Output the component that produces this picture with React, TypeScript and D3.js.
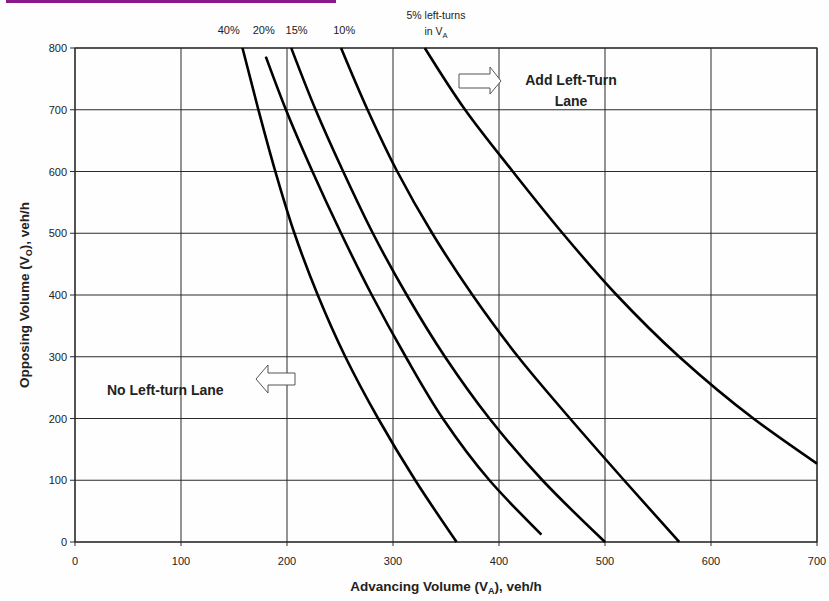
import React from "react";
import * as d3 from "d3";

// advancing volume (x) at each opposing volume (y)
const opposingLevels = [800, 700, 600, 500, 400, 300, 200, 100, 0];

const va40 = [158, 173, 189, 207, 229, 255, 286, 321, 360];
const va15 = [204, 227, 253, 281, 313, 349, 391, 441, 500];
const va10 = [251, 276, 304, 337, 375, 418, 467, 518, 570];

// 20% curve starts and stops short of the axis frame
const vo20 = [786, 700, 600, 500, 400, 300, 200, 100, 12];
const va20 = [180, 199, 224, 251, 280, 312, 347, 391, 440];

// 5% curve leaves the plot at the right edge
const vo5 = [800, 700, 600, 500, 400, 300, 200, 127];
const va5 = [330, 368, 413, 460, 511, 570, 640, 700];

const xTicks = [0, 100, 200, 300, 400, 500, 600, 700];
const yTicks = [0, 100, 200, 300, 400, 500, 600, 700, 800];

const topLabels = [
  { text: "40%", va: 145 },
  { text: "20%", va: 178 },
  { text: "15%", va: 209 },
  { text: "10%", va: 254 },
];

const WIDTH = 829;
const HEIGHT = 601;
const margin = { top: 48, right: 12, bottom: 59, left: 75 };

const App: React.FC = () => {
  const x = d3
    .scaleLinear()
    .domain([0, 700])
    .range([margin.left, WIDTH - margin.right]);
  const y = d3
    .scaleLinear()
    .domain([0, 800])
    .range([HEIGHT - margin.bottom, margin.top]);

  const line = d3
    .line<[number, number]>()
    .x((d) => x(d[0]))
    .y((d) => y(d[1]))
    .curve(d3.curveMonotoneY);

  const series: [number, number][][] = [
    va40.map((v, i) => [v, opposingLevels[i]]),
    va20.map((v, i) => [v, vo20[i]]),
    va15.map((v, i) => [v, opposingLevels[i]]),
    va10.map((v, i) => [v, opposingLevels[i]]),
    va5.map((v, i) => [v, vo5[i]]),
  ];

  const font = "'Liberation Sans', Arial, sans-serif";
  const gridColor = "#2a2a2a";

  return (
    <svg
      width={WIDTH}
      height={HEIGHT}
      style={{ position: "absolute", left: 0, top: 0, background: "#fdfefd" }}
      fontFamily={font}
    >
      {/* purple rule at the very top */}
      <rect x={6} y={0} width={330} height={3} fill="#8a1a8a" />

      {/* grid */}
      {xTicks.map((t) => (
        <line
          key={"gx" + t}
          x1={x(t)}
          x2={x(t)}
          y1={y(800)}
          y2={y(0) + 4}
          stroke={gridColor}
          strokeWidth={1}
        />
      ))}
      {yTicks.map((t) => (
        <line
          key={"gy" + t}
          x1={x(0) - 5}
          x2={x(700)}
          y1={y(t)}
          y2={y(t)}
          stroke={gridColor}
          strokeWidth={1}
        />
      ))}
      <rect
        x={x(0)}
        y={y(800)}
        width={x(700) - x(0)}
        height={y(0) - y(800)}
        fill="none"
        stroke={gridColor}
        strokeWidth={1.2}
      />

      {/* tick labels */}
      {xTicks.map((t) => (
        <text
          key={"tx" + t}
          x={x(t)}
          y={y(0) + 23}
          textAnchor="middle"
          fontSize={11}
          fill="#222"
        >
          {t}
        </text>
      ))}
      {yTicks.map((t) => (
        <text
          key={"ty" + t}
          x={x(0) - 8}
          y={y(t) + 4}
          textAnchor="end"
          fontSize={11}
          fill="#222"
        >
          {t}
        </text>
      ))}

      {/* curves */}
      {series.map((pts, i) => (
        <path
          key={"s" + i}
          d={line(pts) || ""}
          fill="none"
          stroke="#000"
          strokeWidth={2.6}
          strokeLinecap="butt"
        />
      ))}

      {/* curve labels */}
      {topLabels.map((l) => (
        <text
          key={l.text}
          x={x(l.va)}
          y={34}
          textAnchor="middle"
          fontSize={11}
          fill="#222"
        >
          {l.text}
        </text>
      ))}
      <text x={436} y={19} textAnchor="middle" fontSize={10.5} fill="#222">
        5% left-turns
      </text>
      <text x={436} y={35} textAnchor="middle" fontSize={10.5} fill="#222">
        in V<tspan fontSize={7.5} dy={3}>A</tspan>
      </text>

      {/* region notes */}
      <text x={571} y={85} textAnchor="middle" fontSize={14} fontWeight="bold" fill="#222">
        Add Left-Turn
      </text>
      <text x={571} y={106} textAnchor="middle" fontSize={14} fontWeight="bold" fill="#222">
        Lane
      </text>
      <text x={107} y={395} fontSize={14} fontWeight="bold" fill="#222">
        No Left-turn Lane
      </text>

      {/* hollow arrows */}
      <path
        d="M459,74 L490,74 L490,67 L501,81 L490,94 L490,88 L459,88 Z"
        fill="#fff"
        stroke="#555"
        strokeWidth={1}
      />
      <path
        d="M295,373 L268,373 L268,365 L256,379 L268,393 L268,385 L295,385 Z"
        fill="#fff"
        stroke="#555"
        strokeWidth={1}
      />

      {/* axis titles */}
      <text
        x={(x(0) + x(700)) / 2}
        y={591}
        textAnchor="middle"
        fontSize={13.5}
        fontWeight="bold"
        fill="#222"
      >
        Advancing Volume (V<tspan fontSize={9} dy={3}>A</tspan>
        <tspan dy={-3}>), veh/h</tspan>
      </text>
      <text
        transform={`translate(29,${(y(0) + y(800)) / 2}) rotate(-90)`}
        textAnchor="middle"
        fontSize={13.5}
        fontWeight="bold"
        fill="#222"
      >
        Opposing Volume (V<tspan fontSize={9} dy={3}>O</tspan>
        <tspan dy={-3}>), veh/h</tspan>
      </text>
    </svg>
  );
};

export default App;
